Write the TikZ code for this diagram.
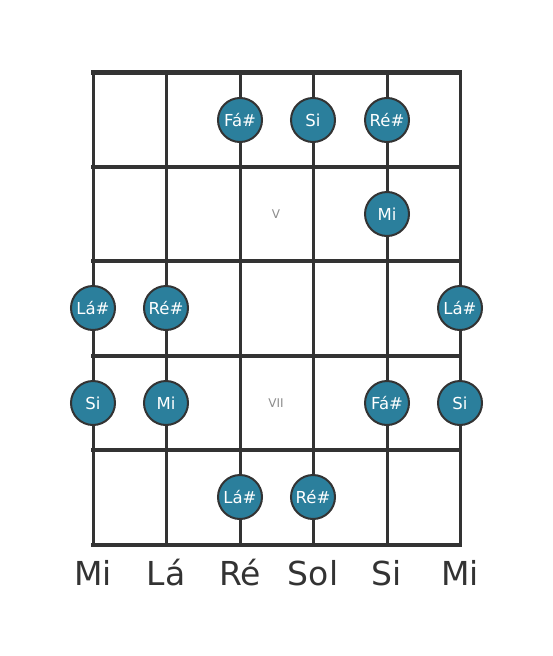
\documentclass[tikz,border=0pt]{standalone}
\usepackage{fontspec}
\setmainfont{DejaVu Sans}
\definecolor{dotfill}{HTML}{2B7F9C}
\definecolor{linec}{HTML}{333333}
\begin{document}
\begin{tikzpicture}[x=1pt,y=-1pt,
  dot/.style={circle,draw=linec,line width=2pt,fill=dotfill,minimum size=44pt,inner sep=0pt,text=white,font=\fontsize{16.5}{16.5}\selectfont},
  fretnum/.style={text=gray!90,font=\fontsize{12}{12}\selectfont},
  strname/.style={text=linec,font=\fontsize{33}{33}\selectfont,anchor=base}]
\useasboundingbox (0,0) rectangle (553,656);
% strings
\foreach \x in {93,166,240,313,387,460}{
  \draw[linec,line width=3pt] (\x,72) -- (\x,545);
}
% frets
\draw[linec,line width=5pt] (91,72) -- (462,72);
\foreach \y in {167,261,356,450,545}{
  \draw[linec,line width=4pt] (91,\y) -- (462,\y);
}
\node[fretnum] (f5) at (276,214) {V};
\node[fretnum] (f7) at (276,403) {VII};
% dots
\node[dot] (a1) at (240,120) {Fá\#};
\node[dot] (a2) at (313,120) {Si};
\node[dot] (a3) at (387,120) {Ré\#};
\node[dot] (b1) at (387,214) {Mi};
\node[dot] (c1) at (93,308) {Lá\#};
\node[dot] (c2) at (166,308) {Ré\#};
\node[dot] (c3) at (460,308) {Lá\#};
\node[dot] (d1) at (93,403) {Si};
\node[dot] (d2) at (166,403) {Mi};
\node[dot] (d3) at (387,403) {Fá\#};
\node[dot] (d4) at (460,403) {Si};
\node[dot] (e1) at (240,497) {Lá\#};
\node[dot] (e2) at (313,497) {Ré\#};
% string names
\node[strname] (s1) at (93,585) {Mi};
\node[strname] (s2) at (166,585) {Lá};
\node[strname] (s3) at (240,585) {Ré};
\node[strname] (s4) at (313,585) {Sol};
\node[strname] (s5) at (387,585) {Si};
\node[strname] (s6) at (460,585) {Mi};
\end{tikzpicture}
\end{document}
